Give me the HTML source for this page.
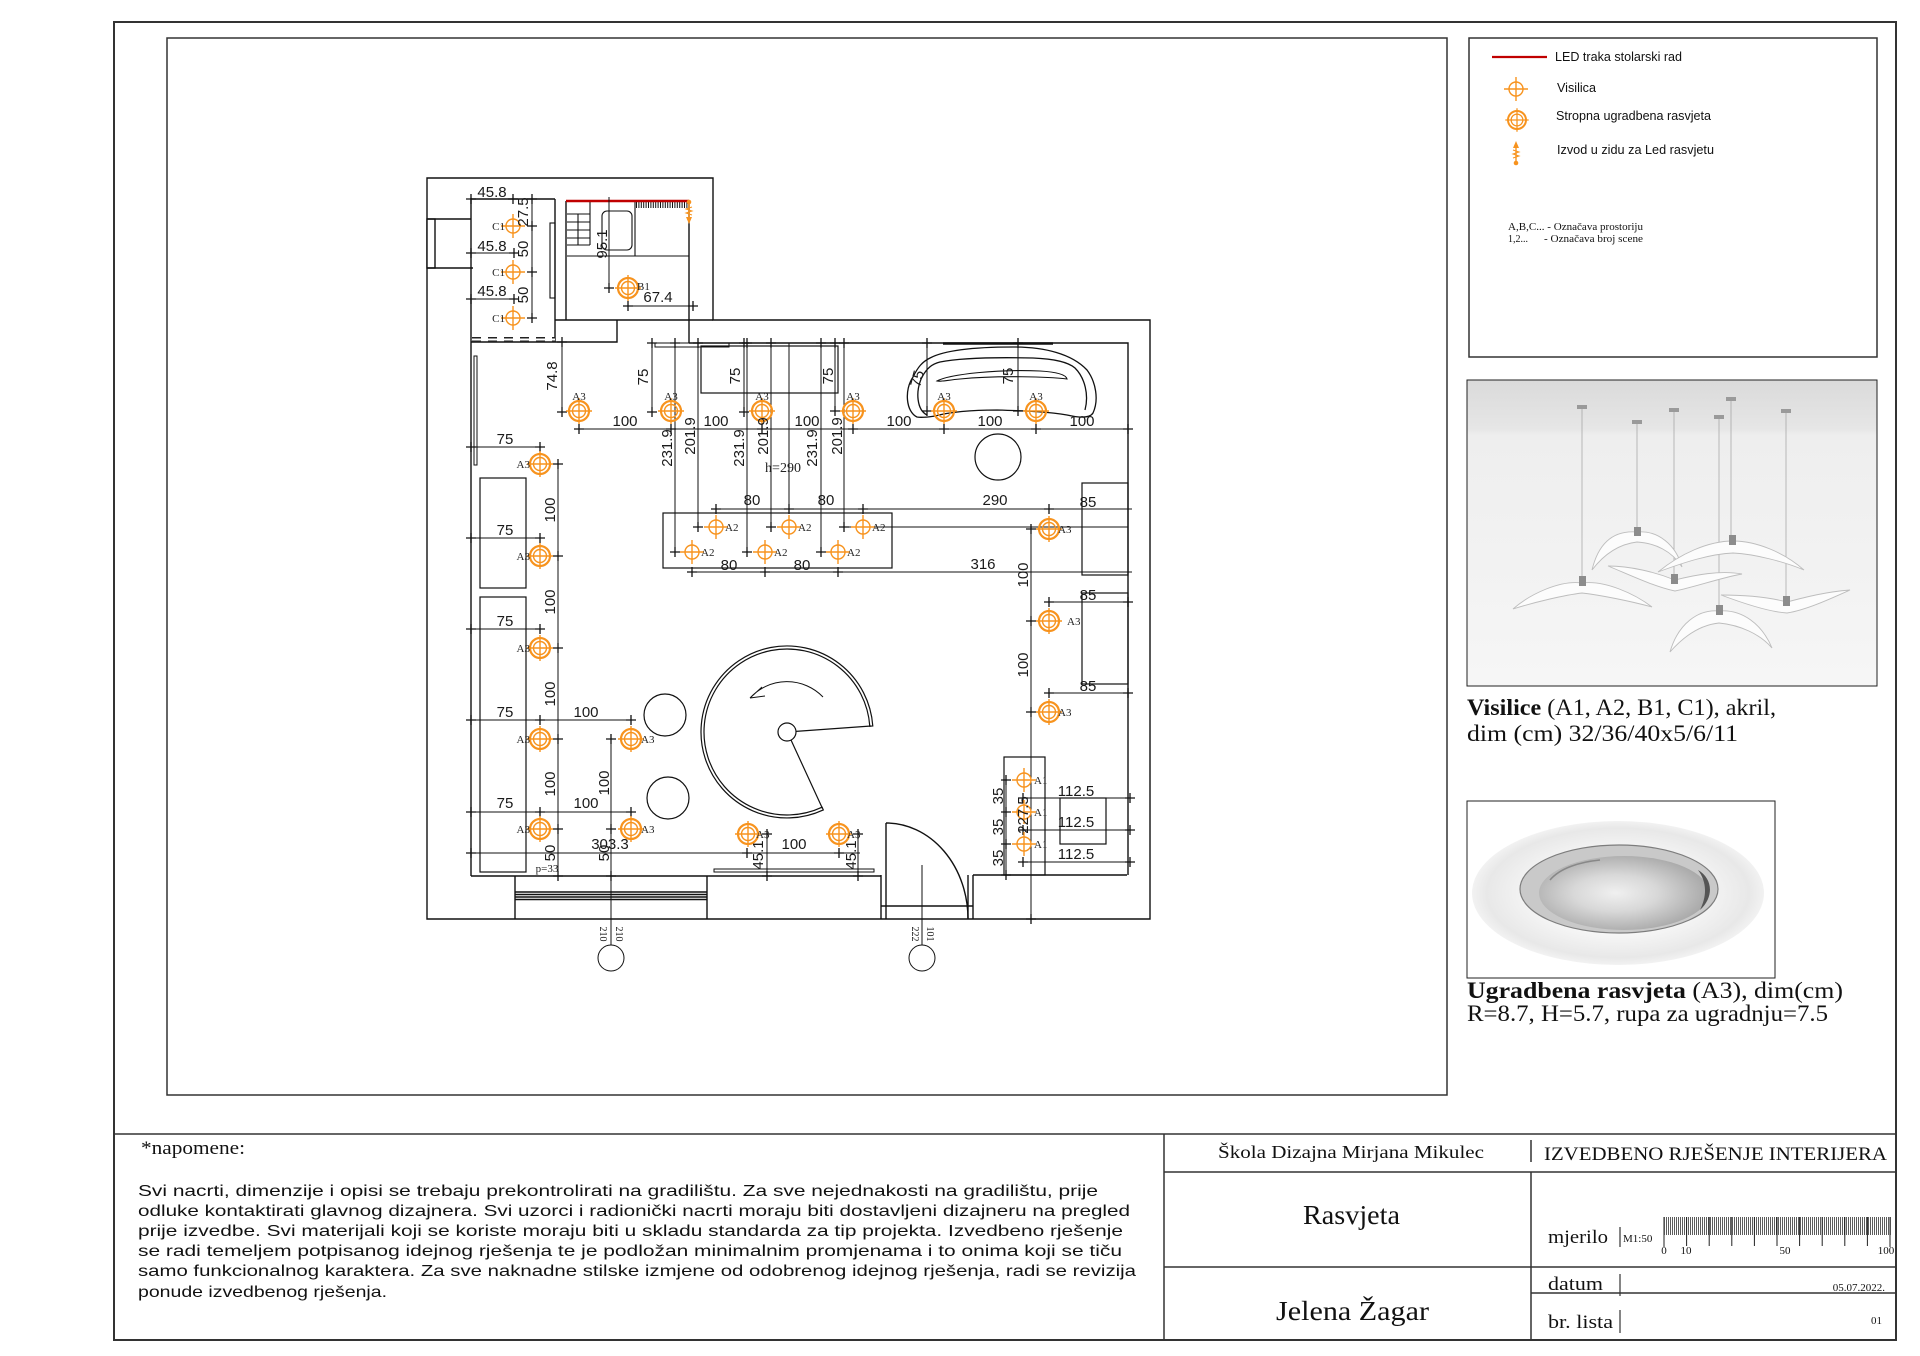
<!DOCTYPE html>
<html><head><meta charset="utf-8"><style>
html,body{margin:0;padding:0;background:#fff;}
svg{display:block}
.w{fill:none;stroke:#111;stroke-width:1.4}
.d{fill:none;stroke:#111;stroke-width:1}
.dm{font-family:"Liberation Sans Narrow","Liberation Sans",sans-serif;font-size:15px;fill:#1a1a1a}
.lb{font-family:"Liberation Serif",serif;font-size:11px;fill:#222}
.sf{font-family:"Liberation Serif",serif;fill:#111}
.ss{font-family:"Liberation Sans",sans-serif;fill:#111}
</style></head><body>
<svg width="1920" height="1356" viewBox="0 0 1920 1356" xmlns="http://www.w3.org/2000/svg">
<defs>
<g id="tk"><path d="M-5 0H5M0 -5V5" stroke="#111" stroke-width="1.3"/></g>
<g id="fv" fill="none" stroke="#f7931e" stroke-width="1.4"><circle r="7"/><path d="M-12 0H12M0 -12V12"/></g>
<g id="fs" fill="none" stroke="#f7931e"><circle r="10" stroke-width="2.2"/><circle r="6.5" stroke-width="1.4"/><path d="M-13 0H13M0 -13V13" stroke-width="1.4"/></g>
<g id="out"><path d="M0 -12 L-3 -5 L3 -5Z" fill="#f7931e"/><path d="M0 -5V10" fill="none" stroke="#f7931e" stroke-width="1.4"/><path d="M-3 -3L3 -1L-3 1L3 3L-3 5" fill="none" stroke="#f7931e" stroke-width="1"/><circle cy="10" r="2.3" fill="#f7931e"/></g>
<linearGradient id="pbg" x1="0" y1="0" x2="0" y2="1"><stop offset="0" stop-color="#dadada"/><stop offset="0.16" stop-color="#e6e6e6"/><stop offset="0.18" stop-color="#eeeeee"/><stop offset="1" stop-color="#f6f6f6"/></linearGradient>
<radialGradient id="fl" cx="0.5" cy="0.5" r="0.5"><stop offset="0.55" stop-color="#f7f7f7"/><stop offset="0.9" stop-color="#e8e8e8"/><stop offset="1" stop-color="#f2f2f2"/></radialGradient>
<radialGradient id="rf" cx="0.45" cy="0.5" r="0.55"><stop offset="0" stop-color="#f0f0f0"/><stop offset="0.45" stop-color="#d8d8d8"/><stop offset="1" stop-color="#a8a8a8"/></radialGradient>
</defs>

<!-- frames -->
<rect x="114" y="22" width="1782" height="1318" fill="none" stroke="#333" stroke-width="2"/>
<rect x="167" y="38" width="1280" height="1057" fill="none" stroke="#333" stroke-width="1.5"/>
<rect x="1469" y="38" width="408" height="319" fill="none" stroke="#333" stroke-width="1.5"/>

<!-- legend -->
<line x1="1492" y1="57" x2="1547" y2="57" stroke="#c00000" stroke-width="2.2"/>
<text class="ss" x="1555" y="61" font-size="12.5" textLength="127" lengthAdjust="spacingAndGlyphs">LED traka stolarski rad</text>
<use href="#fv" x="1516" y="89"/>
<text class="ss" x="1557" y="92" font-size="12.5" textLength="39" lengthAdjust="spacingAndGlyphs">Visilica</text>
<use href="#fs" x="1517" y="120" transform="translate(1517 120) scale(0.9) translate(-1517 -120)"/>
<text class="ss" x="1556" y="120" font-size="12.5" textLength="155" lengthAdjust="spacingAndGlyphs">Stropna ugradbena rasvjeta</text>
<use href="#out" x="1516" y="153"/>
<text class="ss" x="1557" y="154" font-size="12.5" textLength="157" lengthAdjust="spacingAndGlyphs">Izvod u zidu za Led rasvjetu</text>
<text class="sf" x="1508" y="230" font-size="10" textLength="135" lengthAdjust="spacingAndGlyphs">A,B,C... - Označava prostoriju</text>
<text class="sf" x="1508" y="242" font-size="10">1,2...</text>
<text class="sf" x="1544" y="242" font-size="10" textLength="99" lengthAdjust="spacingAndGlyphs">- Označava broj scene</text>

<!-- pendant photo -->
<rect x="1467" y="380" width="410" height="306" fill="url(#pbg)" stroke="#222" stroke-width="1"/>
<g stroke="#a0a0a0" stroke-width="0.7">
<line x1="1582" y1="408" x2="1582" y2="578"/><line x1="1637" y1="423" x2="1637" y2="530"/>
<line x1="1674" y1="411" x2="1674" y2="577"/><line x1="1719" y1="418" x2="1719" y2="610"/>
<line x1="1731" y1="400" x2="1731" y2="538"/><line x1="1786" y1="412" x2="1786" y2="600"/>
</g>
<g fill="#9a9a9a">
<rect x="1577" y="405" width="10" height="4"/><rect x="1632" y="420" width="10" height="4"/>
<rect x="1669" y="408" width="10" height="4"/><rect x="1714" y="415" width="10" height="4"/>
<rect x="1726" y="397" width="10" height="4"/><rect x="1781" y="409" width="10" height="4"/>
</g>
<g fill="#fcfcfc" stroke="#bdbdbd" stroke-width="0.9">
<path d="M1582,583 C1560,580 1530,594 1513,609 C1535,602 1565,595 1582,593 C1600,595 1630,601 1652,607 C1635,594 1605,580 1582,583Z"/>
<path d="M1637,532 C1612,530 1598,545 1592,570 C1605,553 1620,544 1637,542 C1655,543 1672,551 1682,567 C1676,545 1658,530 1637,532Z"/>
<path d="M1675,580 C1655,572 1630,566 1608,566 C1630,575 1655,587 1675,591 C1695,587 1720,578 1742,574 C1720,570 1695,575 1675,580Z"/>
<path d="M1733,541 C1708,541 1680,554 1658,572 C1685,562 1710,554 1733,553 C1755,554 1785,562 1804,570 C1785,553 1757,541 1733,541Z"/>
<path d="M1719,611 C1698,609 1678,624 1670,652 C1684,636 1700,625 1719,623 C1740,625 1760,634 1772,648 C1762,624 1742,609 1719,611Z"/>
<path d="M1787,602 C1768,597 1745,595 1721,595 C1745,604 1770,612 1787,613 C1806,610 1830,599 1850,590 C1825,592 1806,597 1787,602Z"/>
</g>
<g fill="#8c8c8c">
<rect x="1579" y="576" width="7" height="10"/><rect x="1634" y="527" width="7" height="9"/>
<rect x="1671" y="574" width="7" height="10"/><rect x="1729" y="535" width="7" height="10"/>
<rect x="1716" y="605" width="7" height="10"/><rect x="1783" y="596" width="7" height="10"/>
</g>
<text class="sf" x="1467" y="715" font-size="23" textLength="309" lengthAdjust="spacingAndGlyphs"><tspan font-weight="bold">Visilice</tspan> (A1, A2, B1, C1), akril,</text>
<text class="sf" x="1467" y="741" font-size="23" textLength="271" lengthAdjust="spacingAndGlyphs">dim (cm) 32/36/40x5/6/11</text>

<!-- recessed photo -->
<rect x="1467" y="801" width="308" height="177" fill="#fff" stroke="#222" stroke-width="1"/>
<ellipse cx="1618" cy="893" rx="146" ry="72" fill="url(#fl)"/>
<ellipse cx="1619" cy="889" rx="99" ry="44" fill="#c9c9c9" stroke="#7d7d7d" stroke-width="1.2"/>
<ellipse cx="1624" cy="893" rx="85" ry="37" fill="url(#rf)"/>
<path d="M1698,870 C1712,878 1715,896 1700,910 C1707,896 1707,882 1698,870Z" fill="#555"/>
<path d="M1550,880 C1560,868 1580,862 1600,860" fill="none" stroke="#888" stroke-width="1.5"/>
<text class="sf" x="1467" y="998" font-size="23" textLength="376" lengthAdjust="spacingAndGlyphs"><tspan font-weight="bold">Ugradbena rasvjeta</tspan> (A3), dim(cm)</text>
<text class="sf" x="1467" y="1021" font-size="23" textLength="361" lengthAdjust="spacingAndGlyphs">R=8.7, H=5.7, rupa za ugradnju=7.5</text>

<!-- ============ FLOOR PLAN ============ -->
<g class="w">
<path d="M427,178H713V320H1150V919H427Z"/>
<rect x="427" y="219" width="8" height="49" fill="#fff"/>
<path d="M427,219H471M427,268H473"/>
<path d="M471,198V876M471,199H555M555,199V342M566,201V320M555,320H713M471,342H617V320M689,201V343M689,343H1128V875M471,876H881M973,875H1127"/>
<path d="M515,876V919M707,876V919M515,892H707M515,894.5H707M515,897H707M515,899.5H707"/>
<path d="M881,875V919M886,875V919M968,875V919M973,875V919M881,906H973M886,823V906"/>
<path d="M886,823 A82,96 0 0 1 968,919"/>
<rect x="655" y="343" width="74" height="4" stroke-width="1"/>
<path d="M567,256H689M635,202V256M590,202V245M567,245H590M567,214H590M567,222H590M567,230H590M567,238H590M578,214V245" stroke-width="1.1"/>
<rect x="602" y="211" width="30" height="39" rx="5" stroke-width="1.1"/>
<rect x="550" y="223" width="5" height="75" stroke-width="1.1"/>
<rect x="480" y="478" width="46" height="110" stroke-width="1.2"/>
<rect x="480" y="597" width="46" height="275" stroke-width="1.2"/>
<rect x="474" y="356" width="3" height="109" stroke-width="1"/>
<rect x="1082" y="483" width="46" height="92" stroke-width="1.2"/>
<rect x="1082" y="593" width="46" height="91" stroke-width="1.2"/>
<rect x="1004" y="757" width="41" height="118" stroke-width="1.2"/>
<rect x="1060" y="798" width="46" height="46" stroke-width="1.2"/>
<rect x="663" y="513" width="229" height="55" stroke-width="1.2"/>
<rect x="701" y="346" width="137" height="47" stroke-width="1.2"/>
<circle cx="998" cy="457" r="23" stroke-width="1.2"/>
<circle cx="665" cy="715" r="21" stroke-width="1.2"/>
<circle cx="668" cy="798" r="21" stroke-width="1.2"/>
<rect x="714" y="869" width="160" height="3" stroke-width="1"/>
<path d="M943,343.5H1053" stroke-width="2.5"/>
<!-- stair -->
<path d="M823.3,809.9 A86 86 0 1 1 872.8,726 L869.8,726.2 A83 83 0 1 0 822.1,807.2 Z" stroke-width="1.2"/>
<circle cx="787" cy="732" r="9" stroke-width="1.2"/>
<path d="M796,731.4L871,726M791,740L822.5,808.5" stroke-width="1.2"/>
<path d="M823,697 A50 50 0 0 0 750,698 M750,698 L762,687 M750,698 L765,696" stroke-width="1"/>
<!-- sofa -->
<path d="M917,417 C906,412 904,390 913,377 C918,367 922,362 930,358 C945,350 975,347 1013,347 C1045,347 1072,354 1087,370 C1096,382 1099,400 1093,413 C1090,418 1080,418 1067,415 C1050,412 1030,411 997,410 C970,410 950,412 935,416 C928,417 922,418 917,417Z" stroke-width="1.3"/>
<path d="M927,415 C917,410 915,392 922,377 C927,368 932,364 940,362 C960,358 990,357 1033,358 C1055,359 1068,362 1075,368 C1085,378 1089,395 1085,410" stroke-width="1.3"/>
<path d="M937,381 C950,374 1000,369 1040,371 C1058,372 1066,375 1067,379 C1050,377 1000,375 960,379 C948,380 940,382 937,381Z" stroke-width="1.1"/>
</g>
<line x1="472" y1="339.5" x2="555" y2="339.5" stroke="#222" stroke-width="5" stroke-dasharray="9 7"/>
<line x1="472" y1="339.5" x2="555" y2="339.5" stroke="#fff" stroke-width="2" stroke-dasharray="9 7"/>
<line x1="636" y1="205" x2="688" y2="205" stroke="#111" stroke-width="6" stroke-dasharray="1 1.4"/>
<path d="M566,201H689" stroke="#c00000" stroke-width="2.6" fill="none"/>
<use href="#out" transform="translate(689 212) rotate(180)"/>

<!-- dimension lines -->
<g class="d">
<path d="M467,199H555M467,253H517M467,299H517M532,195V322"/>
<path d="M609,197V288M628,306H693"/>
<path d="M562,342V412M652,343V412M744,343V412M835,343V412M927,343V416M1018,338V415M579,429H1128"/>
<path d="M675,343V552M698,343V527M747,343V552M771,343V527M821,343V552M844,343V527M789,343V508"/>
<path d="M716,509H1132M843,527H1128M693,572H1132M1031,527V923M1049,602H1128M1049,693H1128M1006,780V878M1023,798H1130M1023,830H1130M1023,862H1130"/>
<path d="M558,460V878M467,447H544M467,538H544M467,629H544M467,720H636M467,812H636M611,735V945M467,853H860M767,833V878M858,833V878M922,865V945"/>
<circle cx="611" cy="958" r="13"/>
<circle cx="922" cy="958" r="13"/>
</g>

<!-- ticks -->
<g>
<use href="#tk" x="471" y="199"/><use href="#tk" x="513" y="199"/><use href="#tk" x="532" y="199"/>
<use href="#tk" x="471" y="253"/><use href="#tk" x="514" y="253"/><use href="#tk" x="471" y="299"/><use href="#tk" x="514" y="299"/>
<use href="#tk" x="532" y="226"/><use href="#tk" x="532" y="272"/><use href="#tk" x="532" y="318"/>
<use href="#tk" x="609" y="288"/><use href="#tk" x="628" y="306"/><use href="#tk" x="693" y="306"/>
<use href="#tk" x="562" y="342"/><use href="#tk" x="562" y="412"/><use href="#tk" x="652" y="343"/><use href="#tk" x="652" y="412"/>
<use href="#tk" x="744" y="343"/><use href="#tk" x="744" y="412"/><use href="#tk" x="835" y="343"/><use href="#tk" x="835" y="411"/>
<use href="#tk" x="927" y="343"/><use href="#tk" x="927" y="411"/><use href="#tk" x="1018" y="343"/><use href="#tk" x="1018" y="411"/>
<use href="#tk" x="579" y="429"/><use href="#tk" x="671" y="429"/><use href="#tk" x="762" y="429"/><use href="#tk" x="853" y="429"/>
<use href="#tk" x="944" y="429"/><use href="#tk" x="1036" y="429"/><use href="#tk" x="1128" y="429"/>
<use href="#tk" x="675" y="343"/><use href="#tk" x="698" y="343"/><use href="#tk" x="747" y="343"/><use href="#tk" x="771" y="343"/><use href="#tk" x="821" y="343"/><use href="#tk" x="844" y="343"/>
<use href="#tk" x="698" y="527"/><use href="#tk" x="771" y="527"/><use href="#tk" x="844" y="527"/>
<use href="#tk" x="675" y="552"/><use href="#tk" x="747" y="552"/><use href="#tk" x="821" y="552"/>
<use href="#tk" x="716" y="509"/><use href="#tk" x="789" y="509"/><use href="#tk" x="863" y="509"/>
<use href="#tk" x="692" y="572"/><use href="#tk" x="765" y="572"/><use href="#tk" x="838" y="572"/>
<use href="#tk" x="1049" y="509"/><use href="#tk" x="1031" y="529"/><use href="#tk" x="1031" y="621"/><use href="#tk" x="1031" y="712"/>
<use href="#tk" x="1049" y="602"/><use href="#tk" x="1049" y="693"/><use href="#tk" x="1128" y="602"/><use href="#tk" x="1128" y="693"/>
<use href="#tk" x="1031" y="919"/><use href="#tk" x="1006" y="780"/><use href="#tk" x="1006" y="812"/><use href="#tk" x="1006" y="844"/><use href="#tk" x="1006" y="875"/>
<use href="#tk" x="1023" y="798"/><use href="#tk" x="1023" y="830"/><use href="#tk" x="1023" y="862"/>
<use href="#tk" x="1130" y="798"/><use href="#tk" x="1130" y="830"/><use href="#tk" x="1130" y="862"/>
<use href="#tk" x="558" y="464"/><use href="#tk" x="558" y="556"/><use href="#tk" x="558" y="648"/><use href="#tk" x="558" y="739"/><use href="#tk" x="558" y="829"/>
<use href="#tk" x="471" y="447"/><use href="#tk" x="540" y="447"/><use href="#tk" x="471" y="538"/><use href="#tk" x="540" y="538"/>
<use href="#tk" x="471" y="629"/><use href="#tk" x="540" y="629"/><use href="#tk" x="471" y="720"/><use href="#tk" x="540" y="720"/><use href="#tk" x="631" y="720"/>
<use href="#tk" x="471" y="812"/><use href="#tk" x="540" y="812"/><use href="#tk" x="631" y="812"/>
<use href="#tk" x="611" y="739"/><use href="#tk" x="611" y="829"/><use href="#tk" x="558" y="876"/><use href="#tk" x="611" y="876"/><use href="#tk" x="471" y="853"/>
<use href="#tk" x="767" y="834"/><use href="#tk" x="858" y="834"/><use href="#tk" x="747" y="853"/><use href="#tk" x="839" y="853"/>
<use href="#tk" x="767" y="876"/><use href="#tk" x="858" y="876"/>
</g>

<!-- fixtures -->
<g>
<use href="#fs" x="579" y="411"/><use href="#fs" x="671" y="411"/><use href="#fs" x="762" y="411"/>
<use href="#fs" x="853" y="411"/><use href="#fs" x="944" y="411"/><use href="#fs" x="1036" y="411"/>
<use href="#fs" x="540" y="464"/><use href="#fs" x="540" y="556"/><use href="#fs" x="540" y="648"/><use href="#fs" x="540" y="739"/><use href="#fs" x="540" y="829"/>
<use href="#fs" x="631" y="739"/><use href="#fs" x="631" y="829"/>
<use href="#fs" x="748" y="834"/><use href="#fs" x="839" y="834"/>
<use href="#fs" x="1049" y="529"/><use href="#fs" x="1049" y="621"/><use href="#fs" x="1049" y="712"/>
<use href="#fs" x="628" y="288"/>
<use href="#fv" x="513" y="226"/><use href="#fv" x="513" y="272"/><use href="#fv" x="513" y="318"/>
<use href="#fv" x="716" y="527"/><use href="#fv" x="789" y="527"/><use href="#fv" x="863" y="527"/>
<use href="#fv" x="692" y="552"/><use href="#fv" x="765" y="552"/><use href="#fv" x="838" y="552"/>
<use href="#fv" x="1024" y="780"/><use href="#fv" x="1024" y="812"/><use href="#fv" x="1024" y="844"/>
</g>

<!-- fixture labels -->
<g class="lb">
<text x="579" y="400" text-anchor="middle">A3</text><text x="671" y="400" text-anchor="middle">A3</text>
<text x="762" y="400" text-anchor="middle">A3</text><text x="853" y="400" text-anchor="middle">A3</text>
<text x="944" y="400" text-anchor="middle">A3</text><text x="1036" y="400" text-anchor="middle">A3</text>
<text x="530" y="468" text-anchor="end">A3</text><text x="530" y="560" text-anchor="end">A3</text>
<text x="530" y="652" text-anchor="end">A3</text><text x="530" y="743" text-anchor="end">A3</text><text x="530" y="833" text-anchor="end">A3</text>
<text x="641" y="743">A3</text><text x="641" y="833">A3</text>
<text x="756" y="838">A3</text><text x="847" y="838">A3</text>
<text x="1058" y="533">A3</text><text x="1067" y="625">A3</text><text x="1058" y="716">A3</text>
<text x="637" y="290">B1</text>
<text x="505" y="230" text-anchor="end">C1</text><text x="505" y="276" text-anchor="end">C1</text><text x="505" y="322" text-anchor="end">C1</text>
<text x="725" y="531">A2</text><text x="798" y="531">A2</text><text x="872" y="531">A2</text>
<text x="701" y="556">A2</text><text x="774" y="556">A2</text><text x="847" y="556">A2</text>
<text x="1034" y="784">A1</text><text x="1034" y="816">A1</text><text x="1034" y="848">A1</text>
<text x="547" y="872" text-anchor="middle">p=33</text>
<text x="783" y="472" text-anchor="middle" font-size="14">h=290</text>
<text transform="translate(600 934) rotate(90)" text-anchor="middle" font-size="10">210</text>
<text transform="translate(616 934) rotate(90)" text-anchor="middle" font-size="10">210</text>
<text transform="translate(912 934) rotate(90)" text-anchor="middle" font-size="10">222</text>
<text transform="translate(927 934) rotate(90)" text-anchor="middle" font-size="10">101</text>
</g>

<!-- dimension texts -->
<g class="dm">
<text x="492" y="197" text-anchor="middle">45.8</text>
<text x="492" y="251" text-anchor="middle">45.8</text>
<text x="492" y="296" text-anchor="middle">45.8</text>
<text transform="translate(528 212) rotate(-90)" text-anchor="middle">27.5</text>
<text transform="translate(528 249) rotate(-90)" text-anchor="middle">50</text>
<text transform="translate(528 295) rotate(-90)" text-anchor="middle">50</text>
<text transform="translate(607 244) rotate(-90)" text-anchor="middle">95.1</text>
<text x="658" y="302" text-anchor="middle">67.4</text>
<text transform="translate(557 376) rotate(-90)" text-anchor="middle">74.8</text>
<text transform="translate(648 377) rotate(-90)" text-anchor="middle">75</text>
<text transform="translate(740 376) rotate(-90)" text-anchor="middle">75</text>
<text transform="translate(833 376) rotate(-90)" text-anchor="middle">75</text>
<text transform="translate(922 380) rotate(-75)" text-anchor="middle">75</text>
<text transform="translate(1013 376) rotate(-90)" text-anchor="middle">75</text>
<text x="625" y="426" text-anchor="middle">100</text>
<text x="716" y="426" text-anchor="middle">100</text>
<text x="807" y="426" text-anchor="middle">100</text>
<text x="899" y="426" text-anchor="middle">100</text>
<text x="990" y="426" text-anchor="middle">100</text>
<text x="1082" y="426" text-anchor="middle">100</text>
<text transform="translate(672 448) rotate(-90)" text-anchor="middle">231.9</text>
<text transform="translate(744 448) rotate(-90)" text-anchor="middle">231.9</text>
<text transform="translate(817 448) rotate(-90)" text-anchor="middle">231.9</text>
<text transform="translate(695 436) rotate(-90)" text-anchor="middle">201.9</text>
<text transform="translate(768 436) rotate(-90)" text-anchor="middle">201.9</text>
<text transform="translate(842 436) rotate(-90)" text-anchor="middle">201.9</text>
<text x="752" y="505" text-anchor="middle">80</text>
<text x="826" y="505" text-anchor="middle">80</text>
<text x="729" y="570" text-anchor="middle">80</text>
<text x="802" y="570" text-anchor="middle">80</text>
<text x="995" y="505" text-anchor="middle">290</text>
<text x="983" y="569" text-anchor="middle">316</text>
<text x="1088" y="507" text-anchor="middle">85</text>
<text x="1088" y="600" text-anchor="middle">85</text>
<text x="1088" y="691" text-anchor="middle">85</text>
<text transform="translate(1028 575) rotate(-90)" text-anchor="middle">100</text>
<text transform="translate(1028 665) rotate(-90)" text-anchor="middle">100</text>
<text x="1076" y="796" text-anchor="middle">112.5</text>
<text x="1076" y="827" text-anchor="middle">112.5</text>
<text x="1076" y="859" text-anchor="middle">112.5</text>
<text transform="translate(1003 796) rotate(-90)" text-anchor="middle">35</text>
<text transform="translate(1003 827) rotate(-90)" text-anchor="middle">35</text>
<text transform="translate(1003 858) rotate(-90)" text-anchor="middle">35</text>
<text transform="translate(1028 815) rotate(-90)" text-anchor="middle">227.5</text>
<text x="505" y="444" text-anchor="middle">75</text>
<text x="505" y="535" text-anchor="middle">75</text>
<text x="505" y="626" text-anchor="middle">75</text>
<text x="505" y="717" text-anchor="middle">75</text>
<text x="505" y="808" text-anchor="middle">75</text>
<text transform="translate(555 510) rotate(-90)" text-anchor="middle">100</text>
<text transform="translate(555 602) rotate(-90)" text-anchor="middle">100</text>
<text transform="translate(555 694) rotate(-90)" text-anchor="middle">100</text>
<text transform="translate(555 784) rotate(-90)" text-anchor="middle">100</text>
<text transform="translate(555 853) rotate(-90)" text-anchor="middle">50</text>
<text x="586" y="717" text-anchor="middle">100</text>
<text x="586" y="808" text-anchor="middle">100</text>
<text transform="translate(609 783) rotate(-90)" text-anchor="middle">100</text>
<text transform="translate(609 853) rotate(-90)" text-anchor="middle">50</text>
<text x="610" y="849" text-anchor="middle">303.3</text>
<text x="794" y="849" text-anchor="middle">100</text>
<text transform="translate(763 855) rotate(-90)" text-anchor="middle">45.1</text>
<text transform="translate(856 855) rotate(-90)" text-anchor="middle">45.1</text>
</g>

<!-- ============ TITLE BLOCK ============ -->
<g fill="none" stroke="#333" stroke-width="1.5">
<path d="M114,1134H1896M1164,1134V1340M1164,1172H1896M1164,1267H1896M1531,1293H1896M1531,1172V1340M1531,1140V1162"/>
</g>
<text class="sf" x="141" y="1154" font-size="19" textLength="104" lengthAdjust="spacingAndGlyphs">*napomene:</text>
<g class="ss" font-size="16" fill="#2a2a2a">
<text x="138" y="1196" textLength="960" lengthAdjust="spacingAndGlyphs">Svi nacrti, dimenzije i opisi se trebaju prekontrolirati na gradilištu. Za sve nejednakosti na gradilištu, prije</text>
<text x="138" y="1216" textLength="992" lengthAdjust="spacingAndGlyphs">odluke kontaktirati glavnog dizajnera. Svi uzorci i radionički nacrti moraju biti dostavljeni dizajneru na pregled</text>
<text x="138" y="1236" textLength="985" lengthAdjust="spacingAndGlyphs">prije izvedbe. Svi materijali koji se koriste moraju biti u skladu standarda za tip projekta. Izvedbeno rješenje</text>
<text x="138" y="1256" textLength="984" lengthAdjust="spacingAndGlyphs">se radi temeljem potpisanog idejnog rješenja te je podložan minimalnim promjenama i to onima koji se tiču</text>
<text x="138" y="1276" textLength="998" lengthAdjust="spacingAndGlyphs">samo funkcionalnog karaktera. Za sve naknadne stilske izmjene od odobrenog idejnog rješenja, radi se revizija</text>
<text x="138" y="1297" textLength="249" lengthAdjust="spacingAndGlyphs">ponude izvedbenog rješenja.</text>
</g>
<text class="sf" x="1218" y="1158" font-size="18" textLength="266" lengthAdjust="spacingAndGlyphs">Škola Dizajna Mirjana Mikulec</text>
<text class="sf" x="1544" y="1160" font-size="19" textLength="343" lengthAdjust="spacingAndGlyphs">IZVEDBENO RJEŠENJE INTERIJERA</text>
<text class="sf" x="1303" y="1224" font-size="27" textLength="97" lengthAdjust="spacingAndGlyphs">Rasvjeta</text>
<text class="sf" x="1276" y="1320" font-size="27" textLength="153" lengthAdjust="spacingAndGlyphs">Jelena Žagar</text>
<text class="sf" x="1548" y="1243" font-size="19" textLength="60" lengthAdjust="spacingAndGlyphs">mjerilo</text>
<text class="sf" x="1548" y="1290" font-size="19" textLength="55" lengthAdjust="spacingAndGlyphs">datum</text>
<text class="sf" x="1548" y="1328" font-size="19" textLength="65" lengthAdjust="spacingAndGlyphs">br. lista</text>
<g stroke="#333" stroke-width="1.2">
<line x1="1620" y1="1227" x2="1620" y2="1247"/>
<line x1="1620" y1="1274" x2="1620" y2="1296"/>
<line x1="1620" y1="1310" x2="1620" y2="1333"/>
</g>
<text class="sf" x="1623" y="1242" font-size="11">M1:50</text>
<line x1="1664" y1="1226" x2="1892" y2="1226" stroke="#333" stroke-width="18" stroke-dasharray="0.8 1.2"/>
<g stroke="#222" stroke-width="1">
<path d="M1664,1217V1247M1686.6,1217V1246M1709.2,1217V1246M1731.8,1217V1246M1754.4,1217V1246M1777,1217V1246M1799.6,1217V1246M1822.2,1217V1246M1844.8,1217V1246M1867.4,1217V1246M1890,1217V1247"/>
</g>
<g class="sf" font-size="11" text-anchor="middle">
<text x="1664" y="1254">0</text><text x="1686" y="1254">10</text><text x="1785" y="1254">50</text><text x="1886" y="1254">100</text>
</g>
<text class="sf" x="1885" y="1291" font-size="11" text-anchor="end">05.07.2022.</text>
<text class="sf" x="1882" y="1324" font-size="11" text-anchor="end">01</text>
</svg>
</body></html>
